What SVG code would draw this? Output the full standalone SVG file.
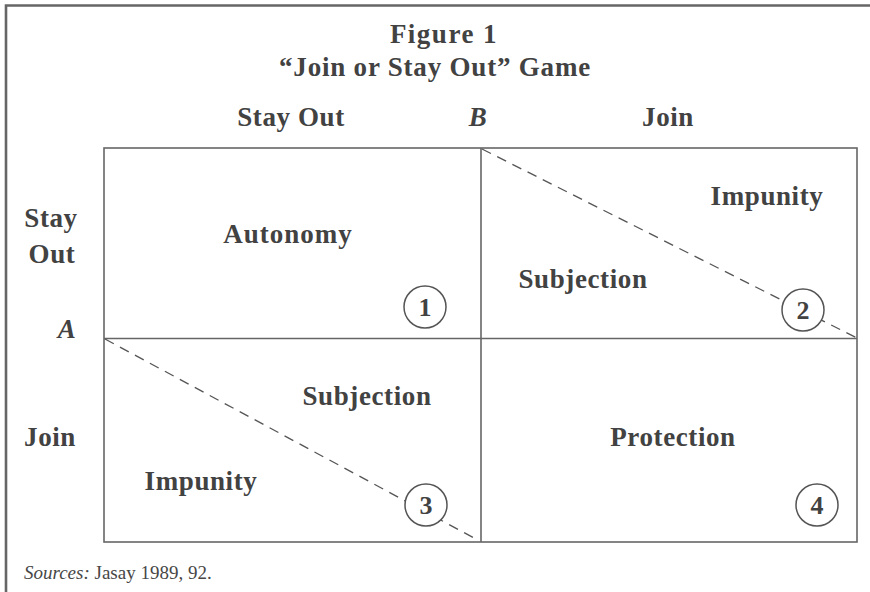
<svg xmlns="http://www.w3.org/2000/svg" width="870" height="592" viewBox="0 0 870 592">
<style>
.t{font-family:"Liberation Serif","Times New Roman",serif;font-weight:bold;font-size:27px;fill:#424242;text-anchor:middle;letter-spacing:0.6px}
.it{font-style:italic}
.num{font-family:"Liberation Serif","Times New Roman",serif;font-weight:bold;font-size:26px;fill:#424242;text-anchor:middle}
.src{font-family:"Liberation Serif","Times New Roman",serif;font-size:19px;fill:#474747}
.grid{fill:none;stroke:#666;stroke-width:1.6}
.dash{fill:none;stroke:#555;stroke-width:1.3;stroke-dasharray:10 7}
.circ{fill:#fff;stroke:#555;stroke-width:1.5}
.frame{fill:none;stroke:#666;stroke-width:2.6}
</style>
<rect width="870" height="592" fill="#fff"/>
<g id="frame">
<path class="frame" d="M6,592 V5.5 H870"/>
</g>
<g id="title">
<text class="t" x="444" y="43" style="letter-spacing:1.5px">Figure 1</text>
<text class="t" x="435" y="76" style="letter-spacing:0.8px">“Join or Stay Out” Game</text>
</g>
<g id="col-headers">
<text class="t" x="291" y="126">Stay Out</text>
<text class="t it" x="478" y="126">B</text>
<text class="t" x="668" y="126">Join</text>
</g>
<g id="row-headers">
<text class="t" x="51" y="227">Stay</text>
<text class="t" x="52" y="263">Out</text>
<text class="t it" x="67" y="338">A</text>
<text class="t" x="50" y="446">Join</text>
</g>
<g id="connectors">
<rect class="grid" x="104" y="148" width="753" height="394"/>
<line class="grid" x1="481" y1="148" x2="481" y2="542"/>
<line class="grid" x1="104" y1="338.5" x2="857" y2="338.5"/>
<line class="dash" x1="482" y1="149" x2="857" y2="338"/>
<line class="dash" x1="105" y1="339" x2="474" y2="538"/>
</g>
<g id="cell1">
<text class="t" x="288" y="243" style="letter-spacing:1px">Autonomy</text>
<circle class="circ" cx="425" cy="307" r="21"/>
<text class="num" x="425" y="316">1</text>
</g>
<g id="cell2">
<text class="t" x="767" y="205">Impunity</text>
<text class="t" x="583" y="288">Subjection</text>
<circle class="circ" cx="803" cy="310" r="21"/>
<text class="num" x="803" y="319">2</text>
</g>
<g id="cell3">
<text class="t" x="367" y="405">Subjection</text>
<text class="t" x="201" y="490">Impunity</text>
<circle class="circ" cx="426" cy="505" r="21"/>
<text class="num" x="426" y="514">3</text>
</g>
<g id="cell4">
<text class="t" x="673" y="446">Protection</text>
<circle class="circ" cx="817" cy="505" r="21"/>
<text class="num" x="817" y="514">4</text>
</g>
<g id="source">
<text class="src" x="24" y="579"><tspan font-style="italic">Sources:</tspan> Jasay 1989, 92.</text>
</g>
</svg>
